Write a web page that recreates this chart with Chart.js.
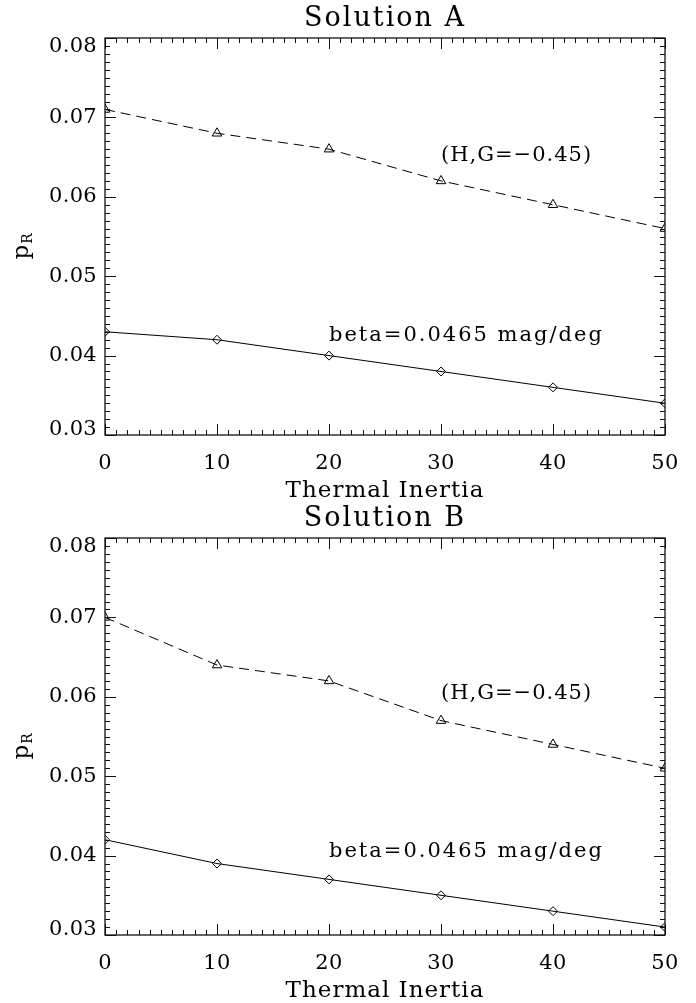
<!DOCTYPE html>
<html>
<head>
<meta charset="utf-8">
<script src="https://cdn.jsdelivr.net/npm/chart.js@4.4.1/dist/chart.umd.min.js"></script>
<style>
  body { margin: 0; background: #fff; }
  #wrap { position: relative; width: 696px; height: 1003px; background: #fff; }
  .panel { position: absolute; left: 0; width: 696px; height: 500px; }
</style>
</head>
<body>
<div id="wrap">
  <div class="panel" style="top:0"><canvas id="chartA" width="696" height="500"></canvas></div>
  <div class="panel" style="top:500px"><canvas id="chartB" width="696" height="500"></canvas></div>
</div>
<script>
// thermal inertia grid shared by both solutions
const inertia = [0, 10, 20, 30, 40, 50];

// solution A
const solA_hg   = [0.071, 0.068, 0.066, 0.062, 0.059, 0.056];
const solA_beta = [0.043, 0.042, 0.040, 0.038, 0.036, 0.034];

// solution B
const solB_hg   = [0.070, 0.064, 0.062, 0.057, 0.054, 0.051];
const solB_beta = [0.042, 0.039, 0.037, 0.035, 0.033, 0.031];

const xMin = 0, xMax = 50, xStep = 10, xMinor = 1;
const yMin = 0.03, yMax = 0.08, yStep = 0.01, yMinor = 0.001;

const hgLabel = '(H,G=\u22120.45)';
const betaLabel = 'beta=0.0465 mag/deg';
const xTitle = 'Thermal Inertia';

const FONT = "'DejaVu Serif', serif";

function pairs(xs, ys) {
    return xs.map((x, i) => ({x: x, y: ys[i]}));
}

// IDL-style frame: box round the plot area with inward major/minor ticks on all sides
const frameTicks = {
    id: 'frameTicks',
    beforeDraw(chart) {
        chart.ctx.letterSpacing = '0.3px';
    },
    afterDatasetsDraw(chart) {
        const ctx = chart.ctx;
        const a = chart.chartArea;
        const xs = chart.scales.x, ys = chart.scales.y;
        ctx.save();
        ctx.strokeStyle = '#111';
        ctx.lineWidth = 1.3;
        ctx.strokeRect(a.left, a.top, a.right - a.left, a.bottom - a.top);
        ctx.lineWidth = 1;
        ctx.beginPath();
        let n = Math.round((xMax - xMin) / xMinor);
        for (let i = 0; i <= n; i++) {
            const px = Math.round(xs.getPixelForValue(xMin + i * xMinor)) + 0.5;
            const len = (i % Math.round(xStep / xMinor) === 0) ? 11 : 5;
            ctx.moveTo(px, a.bottom); ctx.lineTo(px, a.bottom - len);
            ctx.moveTo(px, a.top); ctx.lineTo(px, a.top + len);
        }
        n = Math.round((yMax - yMin) / yMinor);
        for (let i = 0; i <= n; i++) {
            const py = Math.round(ys.getPixelForValue(yMin + i * yMinor)) + 0.5;
            const len = (i % Math.round(yStep / yMinor) === 0) ? 11 : 5;
            ctx.moveTo(a.left, py); ctx.lineTo(a.left + len, py);
            ctx.moveTo(a.right, py); ctx.lineTo(a.right - len, py);
        }
        ctx.stroke();
        ctx.restore();
    },
    afterDraw(chart) {
        const ctx = chart.ctx;
        const a = chart.chartArea;
        const xs = chart.scales.x, ys = chart.scales.y;
        const opts = chart.options.plugins.frameTicks;
        const cx = (a.left + a.right) / 2;
        ctx.save();
        ctx.fillStyle = '#000';
        ctx.textBaseline = 'alphabetic';

        // panel title
        ctx.letterSpacing = '2px';
        ctx.font = '27px ' + FONT;
        ctx.textAlign = 'center';
        ctx.fillText(opts.title, cx, a.top - 12);

        // x axis title
        ctx.letterSpacing = '1px';
        ctx.font = '23px ' + FONT;
        ctx.fillText(xTitle, cx, a.bottom + 62);

        // curve labels
        ctx.textAlign = 'left';
        ctx.font = '21px ' + FONT;
        for (const t of opts.notes) {
            ctx.letterSpacing = t.spacing;
            ctx.fillText(t.text, xs.getPixelForValue(t.x), ys.getPixelForValue(t.y));
        }

        // y axis title p with subscript R
        ctx.letterSpacing = '0px';
        ctx.translate(28, (a.top + a.bottom) / 2 + 23);
        ctx.rotate(-Math.PI / 2);
        ctx.font = '23px ' + FONT;
        ctx.fillText('p', 0, 0);
        const w = ctx.measureText('p').width;
        ctx.font = '14px ' + FONT;
        ctx.fillText('R', w + 1, 4);
        ctx.restore();
    }
};

function makePanel(id, title, hg, beta, notes) {
    return new Chart(document.getElementById(id), {
        type: 'line',
        data: {
            datasets: [{
                label: 'H,G',
                data: pairs(inertia, hg),
                borderColor: '#000',
                borderWidth: 1,
                borderDash: [10, 6],
                pointStyle: 'triangle',
                pointRadius: 5.5,
                pointBorderWidth: 1,
                pointBorderColor: '#000',
                pointBackgroundColor: 'rgba(0,0,0,0)',
                tension: 0,
                clip: 0
            }, {
                label: 'beta',
                data: pairs(inertia, beta),
                borderColor: '#000',
                borderWidth: 1,
                pointStyle: 'rectRot',
                pointRadius: 4.5,
                pointBorderWidth: 1,
                pointBorderColor: '#000',
                pointBackgroundColor: 'rgba(0,0,0,0)',
                tension: 0,
                clip: 0
            }]
        },
        options: {
            responsive: false,
            animation: false,
            devicePixelRatio: 1,
            layout: { padding: { top: 38, right: 31, left: 0, bottom: 0 } },
            plugins: {
                legend: { display: false },
                tooltip: { enabled: false },
                frameTicks: { title: title, notes: notes }
            },
            scales: {
                x: {
                    type: 'linear',
                    min: xMin,
                    max: xMax,
                    grid: { display: false, drawTicks: false },
                    border: { display: false },
                    ticks: {
                        stepSize: xStep,
                        padding: 16,
                        maxRotation: 0,
                        color: '#000',
                        font: { family: FONT, size: 21 }
                    },
                    afterFit(s) { s.height = 65; }
                },
                y: {
                    type: 'linear',
                    min: yMin,
                    max: yMax,
                    grid: { display: false, drawTicks: false },
                    border: { display: false },
                    ticks: {
                        stepSize: yStep,
                        padding: 8,
                        color: '#000',
                        // end labels sit inside the axis range, like the IDL plot
                        callback: (v, i, ticks) => {
                            const s = v.toFixed(2);
                            if (i === ticks.length - 1) return ['', s];
                            if (i === 0) return [s, ''];
                            return s;
                        },
                        font: (c) => {
                            let lh = 1.2;
                            if (c.tick && c.tick.value > yMax - yStep / 2) lh = '18px';
                            else if (c.tick && c.tick.value < yMin + yStep / 2) lh = '10px';
                            return { family: FONT, size: 21, lineHeight: lh };
                        }
                    },
                    afterFit(s) { s.width = 105; }
                }
            }
        },
        plugins: [frameTicks]
    });
}

makePanel('chartA', 'Solution A', solA_hg, solA_beta, [
    { text: hgLabel, x: 30, y: 0.0645, spacing: '1px' },
    { text: betaLabel, x: 20, y: 0.0418, spacing: '2px' }
]);

makePanel('chartB', 'Solution B', solB_hg, solB_beta, [
    { text: hgLabel, x: 30, y: 0.0597, spacing: '1px' },
    { text: betaLabel, x: 20, y: 0.0398, spacing: '2px' }
]);
</script>
</body>
</html>
